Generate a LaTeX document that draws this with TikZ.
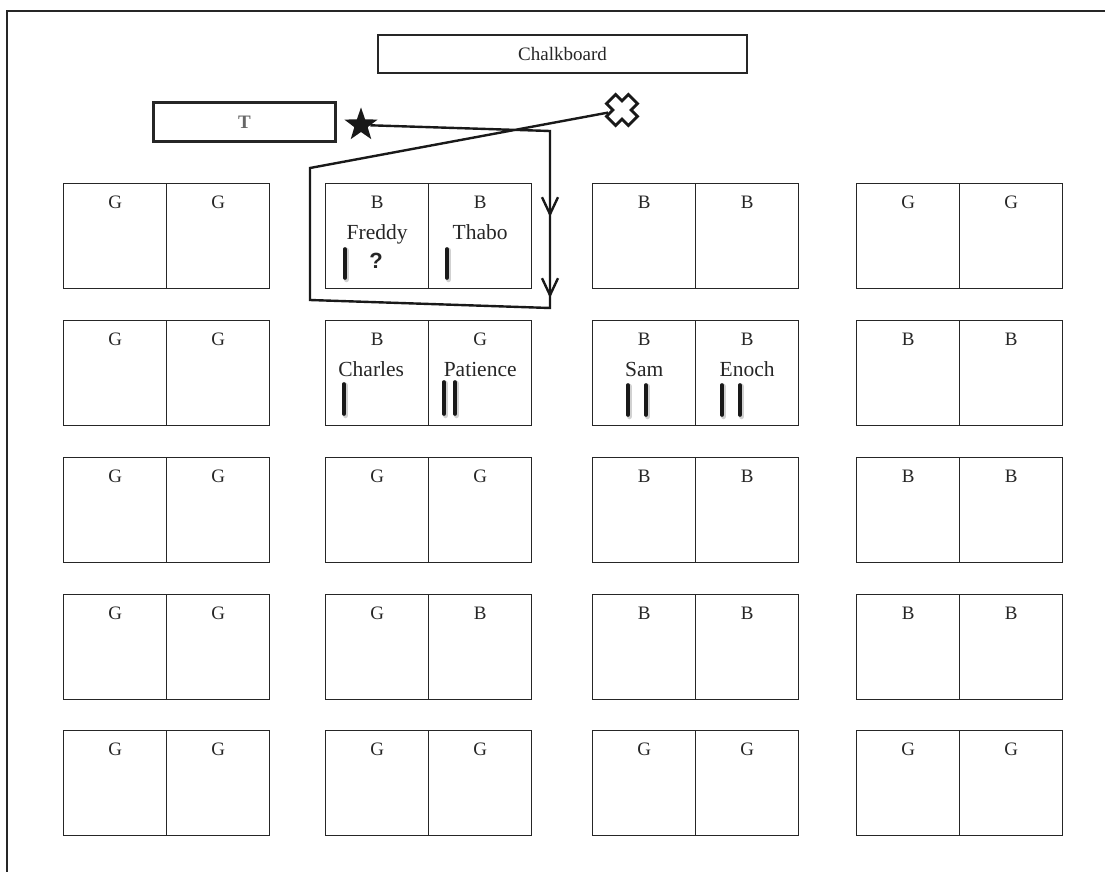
\documentclass[tikz,border=0pt]{standalone}
\usepackage{fontspec}
\setmainfont{Liberation Serif}
\newfontfamily\qfont{Liberation Sans}
\usetikzlibrary{shapes.geometric,decorations.markings,arrows.meta,calc}
\newcommand\mydesk[5]{%
  \node[seat] (#1L) at (#2,#3) {};
  \node[seat] (#1R) at ({#2+103},#3) {};
  \node[lab] at ($(#1L.north)+(0,25)$) {#4};
  \node[lab] at ($(#1R.north)+(0,25)$) {#5};
}
\newcommand\mytally[3]{%
  \draw[tallyshadow] ({#1+1.5},{#2+1.5}) -- ({#1+1.5},{#3+1.5});
  \draw[tally] (#1,#2) -- (#1,#3);
}
\begin{document}
\begin{tikzpicture}[x=1pt,y=-1pt,
  seat/.style={draw=black!85, line width=1.4pt, minimum width=103pt, minimum height=105pt, inner sep=0pt, anchor=north west},
  lab/.style={font=\fontsize{19}{20}\selectfont, inner sep=0pt, anchor=base, text=black!85},
  pname/.style={font=\fontsize{21.5}{23}\selectfont, inner sep=0pt, anchor=base, text=black!85},
  tally/.style={line width=3.6pt, line cap=round, black!90},
  tallyshadow/.style={line width=5.5pt, line cap=round, black, opacity=0.18},
  route/.style={line width=2.4pt, black!90, line join=miter},
  board/.style={draw=black!85, line width=1.4pt, minimum width=369pt, minimum height=38pt, inner sep=0pt, font=\fontsize{19}{20}\selectfont, text=black!85},
  tbox/.style={draw=black!85, line width=3pt, minimum width=182pt, minimum height=38pt, inner sep=0pt, font=\bfseries\fontsize{19}{20}\selectfont, text=black!60},
]
\useasboundingbox (0,0) rectangle (1105,872);
% frame
\coordinate (f1) at (7,872);
\coordinate (f2) at (7,11);
\coordinate (f3) at (1105,11);
\draw[line width=1.4pt, black!85] (f1) -- (f2) -- (f3);

% chalkboard and teacher
\node[board] (chalk) at (562.5,54) {Chalkboard};
\node[tbox] (tdesk) at (244.5,122) {T};

% desks
\mydesk{a1}{63}{183}{G}{G}
\mydesk{b1}{325}{183}{B}{B}
\mydesk{c1}{592}{183}{B}{B}
\mydesk{d1}{856}{183}{G}{G}
\mydesk{a2}{63}{320}{G}{G}
\mydesk{b2}{325}{320}{B}{G}
\mydesk{c2}{592}{320}{B}{B}
\mydesk{d2}{856}{320}{B}{B}
\mydesk{a3}{63}{457}{G}{G}
\mydesk{b3}{325}{457}{G}{G}
\mydesk{c3}{592}{457}{B}{B}
\mydesk{d3}{856}{457}{B}{B}
\mydesk{a4}{63}{594}{G}{G}
\mydesk{b4}{325}{594}{G}{B}
\mydesk{c4}{592}{594}{B}{B}
\mydesk{d4}{856}{594}{B}{B}
\mydesk{a5}{63}{730}{G}{G}
\mydesk{b5}{325}{730}{G}{G}
\mydesk{c5}{592}{730}{G}{G}
\mydesk{d5}{856}{730}{G}{G}

% names
\node[pname] at ($(b1L.north)+(0,56)$) {Freddy};
\node[pname] at ($(b1R.north)+(0,56)$) {Thabo};
\node[pname] at ($(b2L.north)+(-6,56)$) {Charles};
\node[pname] at ($(b2R.north)+(0,56)$) {Patience};
\node[pname] at ($(c2L.north)+(0,56)$) {Sam};
\node[pname] at ($(c2R.north)+(0,56)$) {Enoch};

% tallies
\mytally{345}{249}{278}
\mytally{447}{249}{278}
\mytally{344}{384}{414}
\mytally{444}{382}{414}
\mytally{455}{382}{414}
\mytally{628}{385}{415}
\mytally{646}{385}{415}
\mytally{722}{385}{415}
\mytally{740}{385}{415}
\node[font=\qfont\bfseries\fontsize{22}{24}\selectfont, inner sep=0pt, text=black!85] (qm) at (376,261) {?};

% star and cross
\node[star, star points=5, star point ratio=2.5, fill=black!90, minimum size=35pt, inner sep=0pt] (star) at (361,125) {};
\node[circle, minimum size=28pt, inner sep=0pt] (cross) at (622,110) {};
\draw[line width=2.8pt, black!90, line join=miter, rotate around={45:(622,110)}]
  (628.5,125.5) -- (628.5,116.5) -- (637.5,116.5) -- (637.5,103.5) -- (628.5,103.5) -- (628.5,94.5)
  -- (615.5,94.5) -- (615.5,103.5) -- (606.5,103.5) -- (606.5,116.5) -- (615.5,116.5) -- (615.5,125.5) -- cycle;

% route
\coordinate (r1) at (310,168);
\coordinate (r2) at (310,300);
\coordinate (r3) at (550,308);
\coordinate (r4) at (550,131);
\draw[route] (cross) -- (r1) -- (r2) -- (r3) -- (r4) -- (star);
\path[decorate, decoration={markings,
   mark=at position 86pt with {\arrow[line width=2.4pt, black!90]{Straight Barb[length=17pt,width=16pt]}},
   mark=at position 167pt with {\arrow[line width=2.4pt, black!90]{Straight Barb[length=17pt,width=16pt]}}}]
   (r4) -- (r3);
\end{tikzpicture}
\end{document}
